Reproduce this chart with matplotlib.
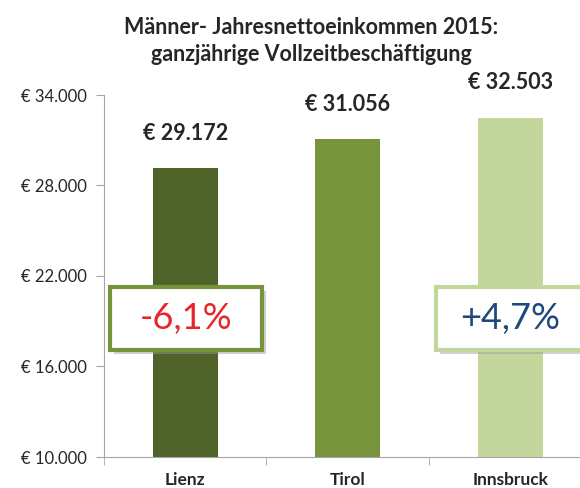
import matplotlib.pyplot as plt
from matplotlib.patches import Rectangle
from matplotlib.ticker import FuncFormatter, FixedLocator

plt.rcParams.update({
    "font.family": ["Lato", "DejaVu Sans"],
})

regions = ["Lienz", "Tirol", "Innsbruck"]
income = [29172, 31056, 32503]
bar_colors = ["#4F6228", "#77933C", "#C3D69B"]
diff_labels = ["-6,1%", "+4,7%"]


def euro(v, _pos=None):
    return "€ " + f"{v:,.0f}".replace(",", ".")


fig = plt.figure(figsize=(5.8, 4.88), dpi=100)
ax = fig.add_axes([104 / 580, 31 / 488, 1 - 104 / 580, 362 / 488])

x = range(len(regions))
ax.bar(x, income, width=0.4, color=bar_colors, zorder=2)
ax.set_xlim(-0.5, 2.43)
ax.set_ylim(10000, 34000)
ax.set_yticks([10000, 16000, 22000, 28000, 34000])
ax.yaxis.set_major_formatter(FuncFormatter(euro))
ax.tick_params(axis="y", labelsize=12, length=6, color="#a6a6a6",
               labelcolor="#262626", pad=6)

ax.set_xticks(list(x))
ax.set_xticklabels(regions, fontsize=12.5, fontweight="bold", color="#262626")
ax.tick_params(axis="x", length=0, pad=11)
ax.xaxis.set_minor_locator(FixedLocator([-0.5, 0.5, 1.5]))
ax.tick_params(axis="x", which="minor", length=6, color="#a6a6a6")

for s in ["top", "right"]:
    ax.spines[s].set_visible(False)
for s in ["left", "bottom"]:
    ax.spines[s].set_color("#a6a6a6")

for xi, v in zip(x, income):
    ax.annotate(euro(v), (xi, v), xytext=(0, 25), textcoords="offset points",
                ha="center", va="center", fontsize=15.5, fontweight="bold",
                color="#262626", annotation_clip=False)

fig.text(0.537, 0.965, "Männer- Jahresnettoeinkommen 2015:\nganzjährige Vollzeitbeschäftigung",
         ha="center", va="top", fontsize=15.5, fontweight="bold", color="#262626",
         linespacing=1.35)

# comparison boxes
boxes = [
    (0.0126, 0.2956, 0.319, 0.174, "#77933C", "#E8262A", 0.172),
    (0.697, 0.2956, 0.33, 0.174, "#C3D69B", "#1F497D", 0.853),
]
for (bx, by, bw, bh, ec, tc, tx), lab in zip(boxes, diff_labels):
    ax.add_patch(Rectangle((bx + 0.009, by - 0.012), bw, bh, transform=ax.transAxes,
                           fc="#9a9a9a", ec="none", alpha=0.45, zorder=3,
                           clip_on=False))
    ax.add_patch(Rectangle((bx, by), bw, bh, transform=ax.transAxes,
                           fc="white", ec=ec, lw=3, zorder=4, clip_on=False))
    ax.text(tx, by + bh / 2, lab, transform=ax.transAxes, ha="center",
            va="center", fontsize=26, color=tc, zorder=5)

fig.savefig("out.png", dpi=100)
